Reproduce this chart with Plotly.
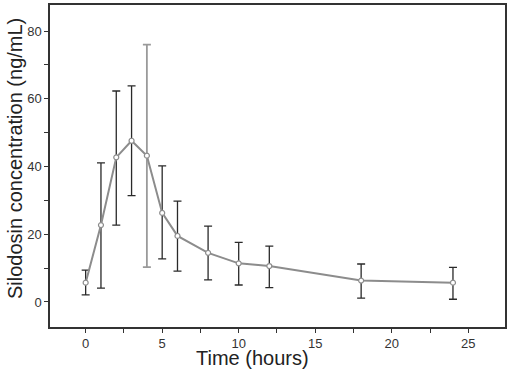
import plotly.graph_objects as go

time_h = [0, 1, 2, 3, 4, 5, 6, 8, 10, 12, 18, 24]
conc_mean = [5.7, 22.7, 42.7, 47.6, 43.2, 26.3, 19.5, 14.5, 11.4, 10.6, 6.3, 5.7]
conc_upper = [9.4, 41.1, 62.3, 63.8, 76.0, 40.2, 29.8, 22.4, 17.6, 16.5, 11.2, 10.2]
conc_lower = [2.1, 4.1, 22.7, 31.4, 10.3, 12.7, 9.1, 6.5, 5.0, 4.2, 1.1, 0.8]
gray_bar_times = [4]

y_tick_vals = [0, 10, 20, 30, 40, 50, 60, 70, 80]
y_tick_text = ["0", "", "20", "", "40", "", "60", "", "80"]
x_tick_vals = [0, 2.5, 5, 7.5, 10, 12.5, 15, 17.5, 20, 22.5, 25]
x_tick_text = ["0", "", "5", "", "10", "", "15", "", "20", "", "25"]

x_title = "Time (hours)"
y_title = "Silodosin concentration (ng/mL)"

err_plus = [u - m for u, m in zip(conc_upper, conc_mean)]
err_minus = [m - l for m, l in zip(conc_mean, conc_lower)]

dark_idx = [i for i, t in enumerate(time_h) if t not in gray_bar_times]
gray_idx = [i for i, t in enumerate(time_h) if t in gray_bar_times]

W, H = 510, 371
ML, MR, MT, MB = 50, 5, 5, 44

fig = go.Figure()

def err_trace(idx, color, thick):
    return go.Scatter(
        x=[time_h[i] for i in idx],
        y=[conc_mean[i] for i in idx],
        mode="markers",
        marker=dict(size=1, color="rgba(0,0,0,0)"),
        error_y=dict(
            type="data",
            symmetric=False,
            array=[err_plus[i] for i in idx],
            arrayminus=[err_minus[i] for i in idx],
            color=color,
            thickness=thick,
            width=4,
        ),
        showlegend=False,
        hoverinfo="skip",
    )

fig.add_trace(err_trace(dark_idx, "#2a2a2a", 1.3))
fig.add_trace(err_trace(gray_idx, "#9a9a9a", 1.8))

fig.add_trace(go.Scatter(
    x=time_h,
    y=conc_mean,
    mode="lines+markers",
    line=dict(color="#8c8c8c", width=2),
    marker=dict(size=5, color="white", line=dict(color="#8c8c8c", width=1.2)),
    showlegend=False,
))

pw = W - ML - MR
ph = H - MT - MB

fig.update_layout(
    width=W,
    height=H,
    margin=dict(l=ML, r=MR, t=MT, b=MB),
    paper_bgcolor="white",
    plot_bgcolor="white",
    font=dict(family="Liberation Sans, Arial, sans-serif", color="#333333"),
    annotations=[
        dict(text=x_title, xref="paper", yref="paper",
             x=(252 - ML) / pw, y=-(358 - (H - MB)) / ph,
             xanchor="center", yanchor="middle", showarrow=False,
             font=dict(size=20, color="#222222")),
        dict(text=y_title, xref="paper", yref="paper",
             x=(15 - ML) / pw, y=1 - (159 - MT) / ph,
             xanchor="center", yanchor="middle", showarrow=False, textangle=-90,
             font=dict(size=20, color="#222222")),
    ],
)

fig.update_xaxes(
    range=[-2.33, 27.4],
    tickmode="array",
    tickvals=x_tick_vals,
    ticktext=x_tick_text,
    ticks="outside",
    ticklen=4,
    tickwidth=1,
    tickcolor="#333333",
    tickfont=dict(size=13, color="#333333"),
    showline=True,
    linecolor="#333333",
    linewidth=1.5,
    mirror=True,
    showgrid=False,
    zeroline=False,
    automargin=False,
)

fig.update_yaxes(
    range=[-7.4, 87.7],
    tickmode="array",
    tickvals=y_tick_vals,
    ticktext=y_tick_text,
    ticks="outside",
    ticklen=4,
    tickwidth=1,
    tickcolor="#333333",
    tickfont=dict(size=13, color="#333333"),
    showline=True,
    linecolor="#333333",
    linewidth=1.5,
    mirror=True,
    showgrid=False,
    zeroline=False,
    automargin=False,
)

fig.write_html(
    "out.html",
    config={"displayModeBar": False},
    post_script="document.body.style.margin='0';document.body.style.padding='0';",
)
